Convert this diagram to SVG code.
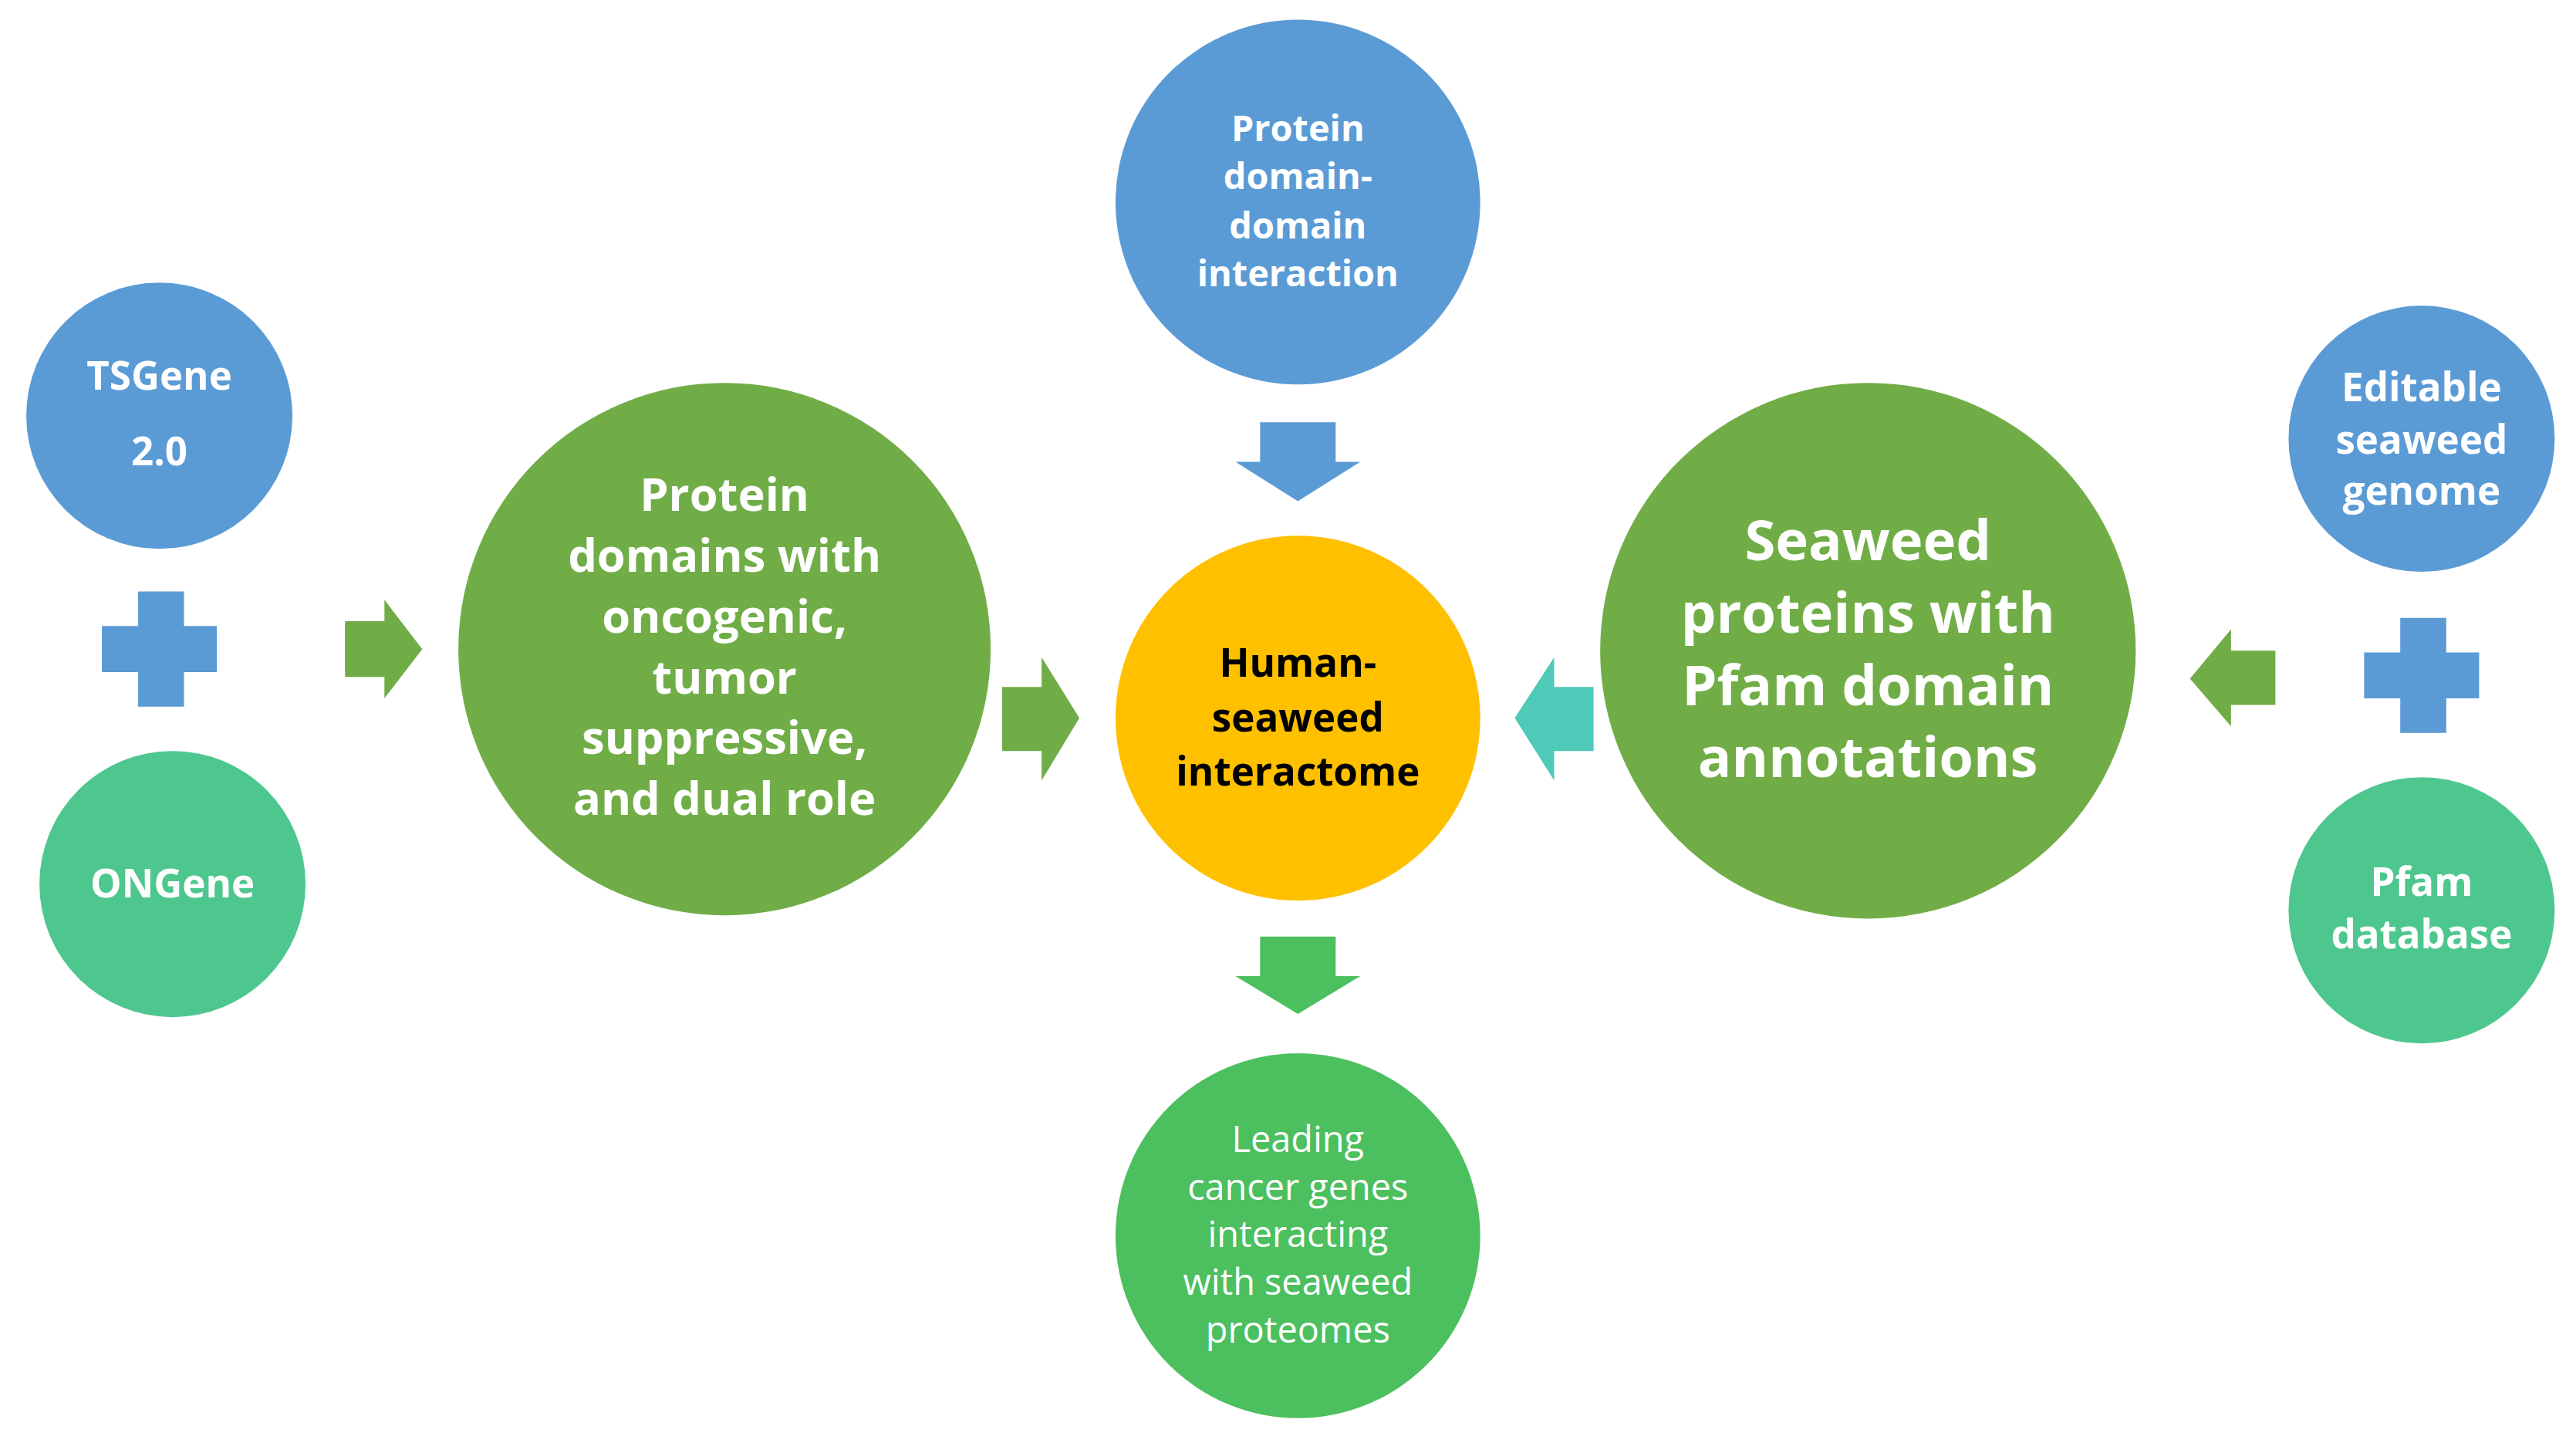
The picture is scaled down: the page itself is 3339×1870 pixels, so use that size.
<svg xmlns="http://www.w3.org/2000/svg" width="3339" height="1870" viewBox="0 0 3339 1870">
<style>
.t{font-family:"Open Sans","DejaVu Sans",sans-serif;font-weight:bold;fill:#fff;text-anchor:middle}
.n{font-family:"Open Sans","DejaVu Sans",sans-serif;fill:#fff;text-anchor:middle}
.blue{fill:#5B9BD5}.green{fill:#70AD47}.teal{fill:#4EC78E}.org{fill:#FFC000}.lg{fill:#4CBF5F}
</style>
<rect width="3339" height="1870" fill="#fff"/>
<g transform="scale(2.1295)">
<g id="tsgene"><circle class="blue" cx="97" cy="253" r="81"/><text class="t" font-size="24" x="97" y="237">TSGene</text><text class="t" font-size="24" x="97" y="283">2.0</text></g>
<g id="plus-left"><path class="blue" d="M84 360h28v21h20v28h-20v21h-28v-21h-22v-28h22z"/></g>
<g id="ongene"><circle class="teal" cx="105" cy="538" r="81"/><text class="t" font-size="24" x="105" y="546">ONGene</text></g>
<g id="domains"><circle class="green" cx="441" cy="395" r="162"/>
<text class="t" font-size="28"><tspan x="441" y="311">Protein</tspan><tspan x="441" y="348">domains with</tspan><tspan x="441" y="385">oncogenic,</tspan><tspan x="441" y="422">tumor</tspan><tspan x="441" y="459">suppressive,</tspan><tspan x="441" y="496">and dual role</tspan></text></g>
<g id="pddi"><circle class="blue" cx="790" cy="123" r="111"/>
<text class="t" font-size="22"><tspan x="790" y="86">Protein</tspan><tspan x="790" y="115">domain-</tspan><tspan x="790" y="145">domain</tspan><tspan x="790" y="174">interaction</tspan></text></g>
<g id="interactome"><circle class="org" cx="790" cy="437" r="111"/>
<text class="t" font-size="24" style="fill:#000"><tspan x="790" y="412">Human-</tspan><tspan x="790" y="445">seaweed</tspan><tspan x="790" y="478">interactome</tspan></text></g>
<g id="leading"><circle class="lg" cx="790" cy="752" r="111"/>
<text class="n" font-size="22"><tspan x="790" y="701">Leading</tspan><tspan x="790" y="730">cancer genes</tspan><tspan x="790" y="759">interacting</tspan><tspan x="790" y="788">with seaweed</tspan><tspan x="790" y="817">proteomes</tspan></text></g>
<g id="seaweed-proteins"><circle class="green" cx="1137" cy="396" r="163"/>
<text class="t" font-size="34"><tspan x="1137" y="341">Seaweed</tspan><tspan x="1137" y="385">proteins with</tspan><tspan x="1137" y="429">Pfam domain</tspan><tspan x="1137" y="473">annotations</tspan></text></g>
<g id="editable"><circle class="blue" cx="1474" cy="267" r="81"/>
<text class="t" font-size="24"><tspan x="1474" y="244">Editable</tspan><tspan x="1474" y="276">seaweed</tspan><tspan x="1474" y="307">genome</tspan></text></g>
<g id="plus-right"><path class="blue" d="M1461 376h28v21h20v28h-20v21h-28v-21h-22v-28h22z"/></g>
<g id="pfam"><circle class="teal" cx="1474" cy="554" r="81"/>
<text class="t" font-size="24"><tspan x="1474" y="545">Pfam</tspan><tspan x="1474" y="577">database</tspan></text></g>
<g id="connectors">
<path class="green" d="M210 378h24v-13l23 30l-23 30v-13h-24z"/>
<path class="green" d="M610 418h24v-18l23 37l-23 38v-18h-24z"/>
<path d="M970 418h-24v-18l-24 37l24 38v-18h24z" fill="#4FC9B8"/>
<path class="green" d="M1385 396h-27v-13l-25 30l25 29v-13h27z"/>
<path class="blue" d="M767 257h46v24h15l-38 24l-38-24h15z"/>
<path class="lg" d="M767 570h46v24h15l-38 23l-38-23h15z"/>
</g>
</g>
</svg>
